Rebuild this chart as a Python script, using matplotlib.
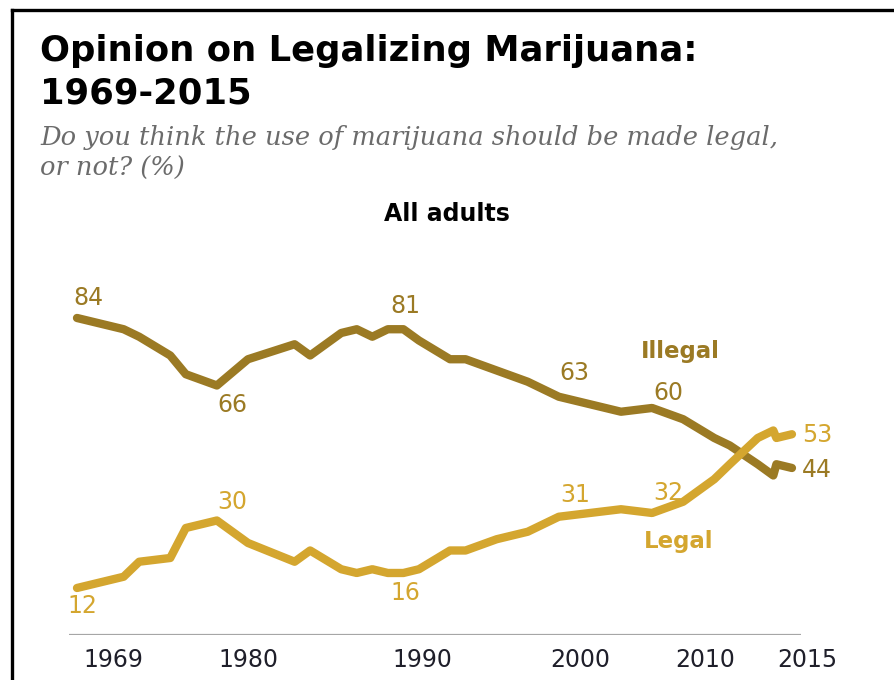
import matplotlib
matplotlib.use('Agg')
import matplotlib.pyplot as plt
from matplotlib.lines import Line2D

# survey years (fractional where several polls fall in one year)
years = [1969, 1972, 1973, 1975, 1976, 1978, 1980, 1983, 1984, 1986, 1987,
         1988, 1989, 1990, 1991, 1993, 1994, 1996, 1998, 2000, 2004, 2006,
         2008, 2010, 2011, 2012.8, 2013.8, 2014.0, 2015]
illegal = [84, 81, 79, 74, 69, 66, 73, 77, 74, 80, 81, 79, 81, 81, 78, 73,
           73, 70, 67, 63, 59, 60, 57, 52, 50, 45, 42, 45, 44]
legal = [12, 15, 19, 20, 28, 30, 24, 19, 22, 17, 16, 17, 16, 16, 17, 22, 22,
         25, 27, 31, 33, 32, 35, 41, 45, 52, 54, 52, 53]
tick_labels = ['1969', '1980', '1990', '2000', '2010', '2015']

title_lines = ['Opinion on Legalizing Marijuana:', '1969-2015']
subtitle_lines = ['Do you think the use of marijuana should be made legal,',
                  'or not? (%)']
panel = 'All adults'

c_illegal = '#9b7a24'
c_legal = '#d4a62f'

fig = plt.figure(figsize=(8.95, 6.8), dpi=100)
ax = fig.add_axes([0.0771, 0.0662, 0.818, 0.5103])

ax.plot(years, illegal, color=c_illegal, lw=6, solid_capstyle='round',
        solid_joinstyle='round')
ax.plot(years, legal, color=c_legal, lw=6, solid_capstyle='round',
        solid_joinstyle='round')

ax.set_xlim(1968.485, 2015.59)
ax.set_ylim(-0.533, 92)
ax.axis('off')
ax.axhline(-0.533, color='#a6a6a6', lw=1.6)

# value labels: (series index, offset in pixels)
lab_font = dict(family='DejaVu Sans', fontsize=17)
illegal_marks = [(0, (11, 20)), (5, (15, -20)), (13, (2, 23)),
                 (19, (16, 24)), (21, (16, 15))]
legal_marks = [(0, (5, -18)), (5, (15, 18)), (13, (2, -20)),
               (19, (16, 22)), (21, (16, 20))]
for i, off in illegal_marks:
    ax.annotate(str(illegal[i]), (years[i], illegal[i]), xytext=off,
                textcoords='offset pixels', ha='center', va='center',
                color=c_illegal, **lab_font)
for i, off in legal_marks:
    ax.annotate(str(legal[i]), (years[i], legal[i]), xytext=off,
                textcoords='offset pixels', ha='center', va='center',
                color=c_legal, **lab_font)
ax.annotate(str(illegal[-1]), (years[-1], illegal[-1]), xytext=(10, -2),
            textcoords='offset pixels', ha='left', va='center',
            color=c_illegal, annotation_clip=False, **lab_font)
ax.annotate(str(legal[-1]), (years[-1], legal[-1]), xytext=(10, -1),
            textcoords='offset pixels', ha='left', va='center',
            color=c_legal, annotation_clip=False, **lab_font)

ax.text(2007.8, 75, 'Illegal', ha='center', va='center', color=c_illegal,
        fontsize=16.5, fontweight='bold', family='DejaVu Sans')
ax.text(2007.7, 24.5, 'Legal', ha='center', va='center', color=c_legal,
        fontsize=16.5, fontweight='bold', family='DejaVu Sans')

# year labels sit where the original put them
tick_x = [1971.32, 1980.0, 1991.2, 2001.37, 2009.41, 2015.98]
for x, t in zip(tick_x, tick_labels):
    ax.text(x, -0.072, t, transform=ax.get_xaxis_transform(), ha='center',
            va='center', fontsize=17, color='#1f1f2a', family='DejaVu Sans',
            clip_on=False)

for line, base in zip(title_lines, [61, 103]):
    fig.text(40 / 895, 1 - base / 680, line, ha='left', va='baseline',
             fontsize=25.5, fontweight='bold', family='DejaVu Sans',
             color='black')
for line, base in zip(subtitle_lines, [145, 176]):
    fig.text(40 / 895, 1 - base / 680, line, ha='left', va='baseline',
             fontsize=18.5, style='italic', family='DejaVu Serif',
             color='#6b6b6b')
fig.text(447 / 895, 1 - 221 / 680, panel, ha='center', va='baseline',
         fontsize=17, fontweight='bold', family='DejaVu Sans', color='black')

# black frame on the top and left edges
fig.add_artist(Line2D([12 / 895, 12 / 895], [0, 1 - 10 / 680],
                      transform=fig.transFigure, color='black', lw=2.4))
fig.add_artist(Line2D([12 / 895, 1], [1 - 10 / 680, 1 - 10 / 680],
                      transform=fig.transFigure, color='black', lw=2.4))

plt.savefig('out.png', dpi=100)
